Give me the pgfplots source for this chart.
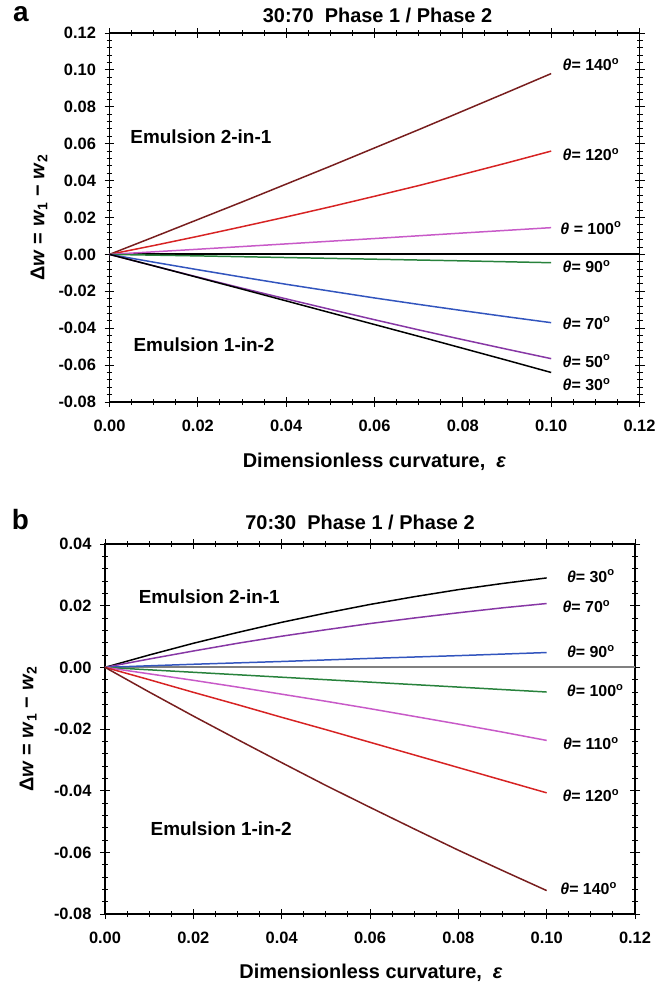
\documentclass[border=0pt]{standalone}
\usepackage{pgfplots}
\pgfplotsset{compat=1.18}
\usepackage{fontspec}
\setmainfont{Liberation Sans}
\definecolor{cbrown}{RGB}{120,30,30}
\definecolor{cred}{RGB}{215,35,35}
\definecolor{cpink}{RGB}{200,90,200}
\definecolor{cgreen}{RGB}{40,130,60}
\definecolor{cblue}{RGB}{50,85,190}
\definecolor{cpurple}{RGB}{135,55,165}
\newcommand{\thl}[1]{\textit{θ}= #1\textsuperscript{o}}
\tikzset{
  lbl/.style={font=\fontsize{16}{18}\selectfont\bfseries},
  em/.style={font=\fontsize{19}{22}\selectfont\bfseries},
}
\pgfplotsset{
  myax/.style={
    scale only axis, width=530bp,
    xmin=0, xmax=0.12,
    xtick={0,0.02,...,0.12},
    minor x tick num=3, minor y tick num=4,
    scaled x ticks=false, scaled y ticks=false,
    tick align=center,
    major tick length=10bp, minor tick length=6bp,
    every tick/.style={black, line width=1pt},
    axis line style={line width=1.5pt},
    /pgf/number format/assume math mode=true,
    /pgf/number format/fixed, /pgf/number format/fixed zerofill,
    /pgf/number format/precision=2,
    ticklabel style={font=\fontsize{16.5}{19}\selectfont\bfseries},
    yticklabel style={xshift=-5bp},
    xticklabel style={yshift=-9bp},
    xlabel style={font=\fontsize{20}{23}\selectfont\bfseries, anchor=center},
    ylabel style={font=\fontsize{20}{23}\selectfont\bfseries, anchor=center},
    xlabel={Dimensionless curvature,\ \ \textit{ε}},
    ylabel={Δ\textit{w} = \textit{w}\textsubscript{1} − \textit{w}\textsubscript{2}},
    every axis plot/.append style={line width=1.5pt, no marks},
    clip=false,
  }
}
\begin{document}
\begin{tikzpicture}
\path[use as bounding box] (0bp,0bp) rectangle (672bp,-986bp);
\node[font=\fontsize{28}{30}\selectfont\bfseries] at (21bp,-14bp) {a};
\node[font=\fontsize{20}{23}\selectfont\bfseries] at (377.5bp,-15bp) {30:70\ \ Phase 1 / Phase 2};
\begin{axis}[myax, at={(109.5bp,-33bp)}, anchor=north west, height=369bp,
  ymin=-0.08, ymax=0.12, ytick={-0.08,-0.06,...,0.12},
  ylabel style={at={(axis description cs:-0.133,0.5)}},
  xlabel style={at={(axis description cs:0.5,-0.163)}}]
\addplot[black, line width=2pt] coordinates {(0,0) (0.12,0)};
\addplot[cbrown] coordinates {(0,0) (0.01,0.0094) (0.02,0.0189) (0.03,0.0284) (0.04,0.0381) (0.05,0.0478) (0.06,0.0577) (0.07,0.0676) (0.08,0.0777) (0.09,0.0878) (0.10,0.0980)};
\addplot[cred] coordinates {(0,0) (0.01,0.0048) (0.02,0.0098) (0.03,0.0150) (0.04,0.0203) (0.05,0.0258) (0.06,0.0315) (0.07,0.0373) (0.08,0.0434) (0.09,0.0496) (0.10,0.0560)};
\addplot[cpink] coordinates {(0,0) (0.02,0.0028) (0.04,0.0057) (0.06,0.0086) (0.08,0.0116) (0.10,0.0145)};
\addplot[cgreen] coordinates {(0,0) (0.02,-0.0008) (0.04,-0.0017) (0.06,-0.0026) (0.08,-0.0035) (0.10,-0.0045)};
\addplot[cblue] coordinates {(0,0) (0.01,-0.0042) (0.02,-0.0083) (0.03,-0.0123) (0.04,-0.0162) (0.05,-0.0199) (0.06,-0.0236) (0.07,-0.0271) (0.08,-0.0305) (0.09,-0.0338) (0.10,-0.0370)};
\addplot[cpurple] coordinates {(0,0) (0.01,-0.0062) (0.02,-0.0123) (0.03,-0.0183) (0.04,-0.0241) (0.05,-0.0298) (0.06,-0.0354) (0.07,-0.0409) (0.08,-0.0462) (0.09,-0.0514) (0.10,-0.0565)};
\addplot[black] coordinates {(0,0) (0.01,-0.0062) (0.02,-0.0125) (0.03,-0.0188) (0.04,-0.0252) (0.05,-0.0316) (0.06,-0.0380) (0.07,-0.0444) (0.08,-0.0509) (0.09,-0.0574) (0.10,-0.0640)};
\node[lbl] at (axis cs:0.109,0.1028) {\thl{140}};
\node[lbl] at (axis cs:0.109,0.054) {\thl{120}};
\node[lbl] at (axis cs:0.109,0.0143) {\textit{θ} = 100\textsuperscript{o}};
\node[lbl] at (axis cs:0.108,-0.0065) {\thl{90}};
\node[lbl] at (axis cs:0.108,-0.0372) {\thl{70}};
\node[lbl] at (axis cs:0.108,-0.0578) {\thl{50}};
\node[lbl] at (axis cs:0.108,-0.0706) {\thl{30}};
\node[em] at (axis cs:0.0207,0.064) {Emulsion 2-in-1};
\node[em] at (axis cs:0.0214,-0.049) {Emulsion 1-in-2};
\end{axis}
\node[font=\fontsize{28}{30}\selectfont\bfseries] at (20.5bp,-520bp) {b};
\node[font=\fontsize{20}{23}\selectfont\bfseries] at (360bp,-522bp) {70:30\ \ Phase 1 / Phase 2};
\begin{axis}[myax, at={(105bp,-544bp)}, anchor=north west, height=370bp,
  ymin=-0.08, ymax=0.04, ytick={-0.08,-0.06,...,0.04},
  ylabel style={at={(axis description cs:-0.145,0.5)}},
  xlabel style={at={(axis description cs:0.502,-0.159)}}]
\addplot[gray, line width=2pt] coordinates {(0,0) (0.12,0)};
\addplot[black] coordinates {(0,0) (0.01,0.0040) (0.02,0.0078) (0.03,0.0113) (0.04,0.0146) (0.05,0.0176) (0.06,0.0204) (0.07,0.0229) (0.08,0.0252) (0.09,0.0272) (0.10,0.0290)};
\addplot[cpurple] coordinates {(0,0) (0.01,0.0027) (0.02,0.0053) (0.03,0.0078) (0.04,0.0101) (0.05,0.0122) (0.06,0.0142) (0.07,0.0160) (0.08,0.0177) (0.09,0.0193) (0.10,0.0207)};
\addplot[cblue] coordinates {(0,0) (0.02,0.0010) (0.04,0.0019) (0.06,0.0029) (0.08,0.0038) (0.10,0.0048)};
\addplot[cgreen] coordinates {(0,0) (0.02,-0.0016) (0.04,-0.0032) (0.06,-0.0048) (0.08,-0.0064) (0.10,-0.0080)};
\addplot[cpink] coordinates {(0,0) (0.01,-0.0021) (0.02,-0.0042) (0.03,-0.0064) (0.04,-0.0087) (0.05,-0.0110) (0.06,-0.0134) (0.07,-0.0159) (0.08,-0.0184) (0.09,-0.0210) (0.10,-0.0237)};
\addplot[cred] coordinates {(0,0) (0.01,-0.0040) (0.02,-0.0081) (0.03,-0.0121) (0.04,-0.0162) (0.05,-0.0202) (0.06,-0.0243) (0.07,-0.0284) (0.08,-0.0325) (0.09,-0.0366) (0.10,-0.0407)};
\addplot[cbrown] coordinates {(0,0) (0.01,-0.0080) (0.02,-0.0158) (0.03,-0.0234) (0.04,-0.0309) (0.05,-0.0383) (0.06,-0.0454) (0.07,-0.0524) (0.08,-0.0593) (0.09,-0.0659) (0.10,-0.0724)};
\node[lbl] at (axis cs:0.110,0.0296) {\thl{30}};
\node[lbl] at (axis cs:0.109,0.0196) {\thl{70}};
\node[lbl] at (axis cs:0.110,0.0052) {\thl{90}};
\node[lbl] at (axis cs:0.111,-0.0075) {\thl{100}};
\node[lbl] at (axis cs:0.110,-0.0248) {\thl{110}};
\node[lbl] at (axis cs:0.110,-0.0416) {\thl{120}};
\node[lbl] at (axis cs:0.1095,-0.0717) {\thl{140}};
\node[em] at (axis cs:0.0236,0.0228) {Emulsion 2-in-1};
\node[em] at (axis cs:0.0263,-0.0522) {Emulsion 1-in-2};
\end{axis}
\end{tikzpicture}
\end{document}
